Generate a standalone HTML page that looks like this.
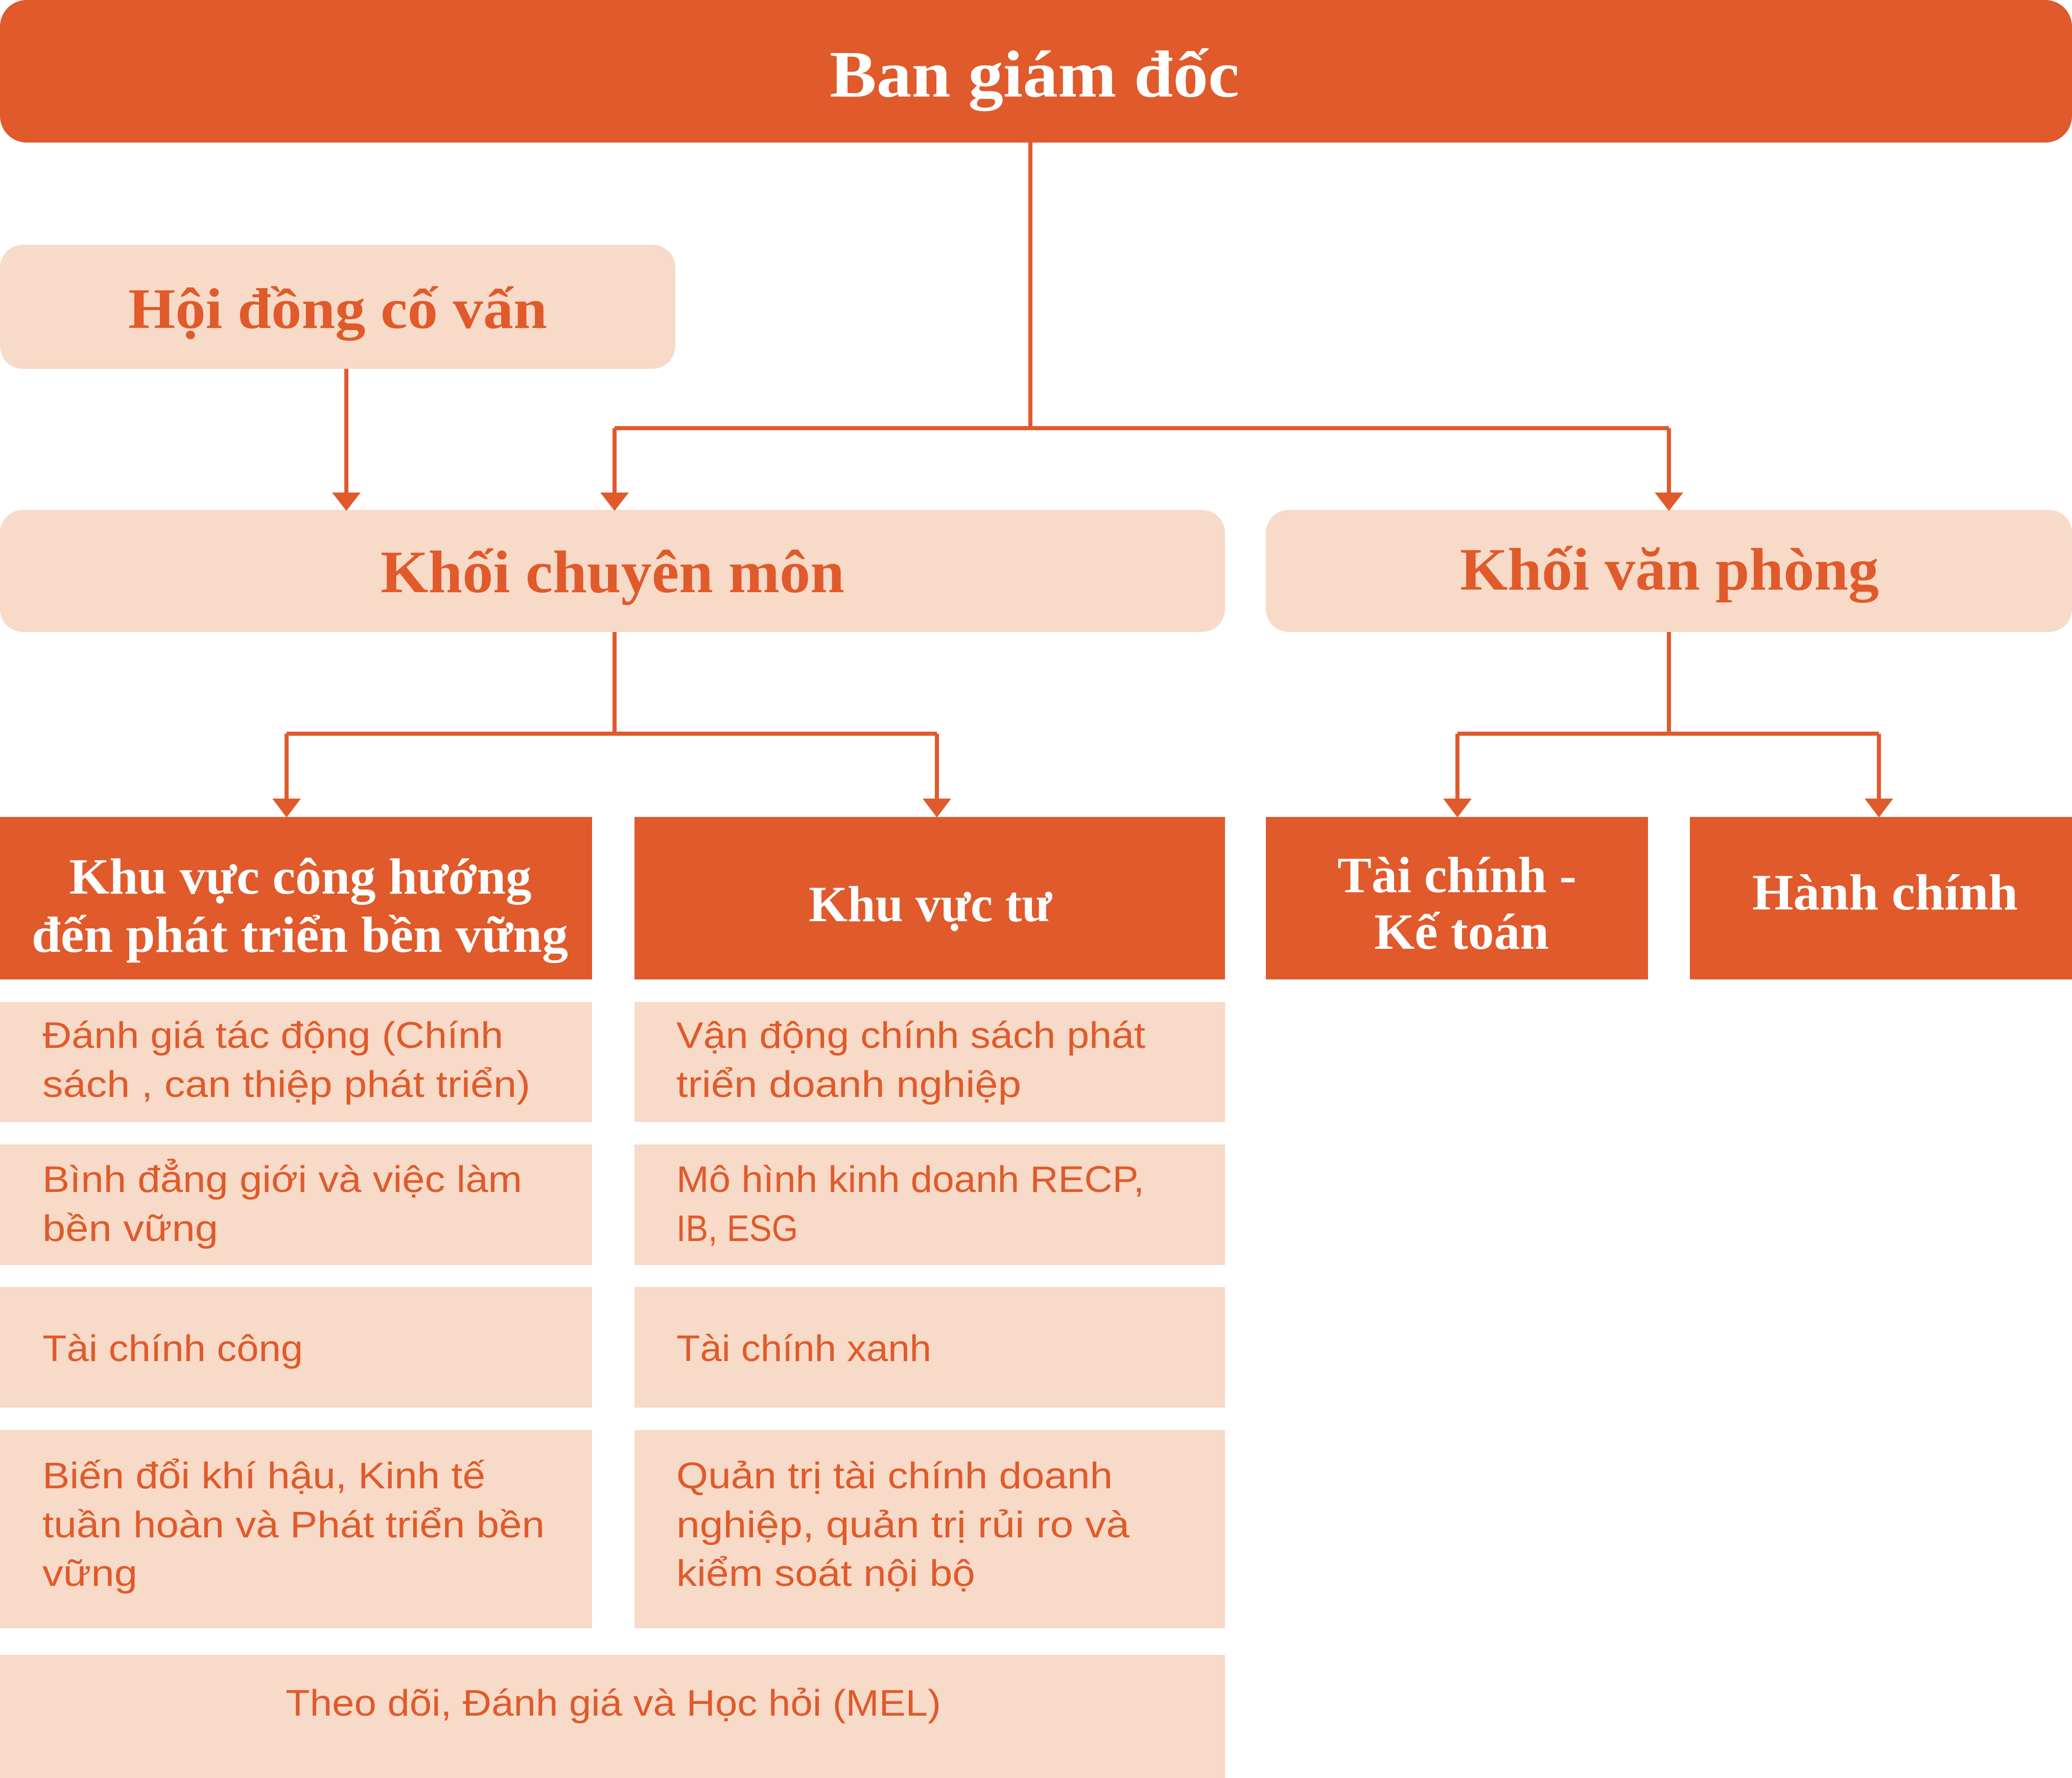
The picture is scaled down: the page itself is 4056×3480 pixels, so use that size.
<!DOCTYPE html>
<html><head><meta charset="utf-8"><style>
html,body{margin:0;padding:0;background:#fff;}
svg{display:block;}
.t{font-family:"Liberation Serif",serif;font-weight:bold;}
.b{font-family:"Liberation Sans","DejaVu Sans",sans-serif;font-size:72px;fill:#E05A2B;}
</style></head><body>
<svg width="4056" height="3480" viewBox="0 0 4056 3480" xmlns="http://www.w3.org/2000/svg">
<g fill="#E05A2B">
<rect x="0" y="0" width="4056" height="279" rx="52"/>
<rect x="0" y="1599" width="1159" height="318"/>
<rect x="1242" y="1599" width="1156" height="318"/>
<rect x="2478" y="1599" width="748" height="318"/>
<rect x="3308" y="1599" width="748" height="318"/>
</g>
<g fill="#F7DAC7">
<rect x="0" y="479" width="1322" height="243" rx="45"/>
<rect x="0" y="998" width="2398" height="239" rx="45"/>
<rect x="2478" y="998" width="1578" height="239" rx="45"/>
<rect x="0" y="1961" width="1159" height="235"/>
<rect x="0" y="2240" width="1159" height="236"/>
<rect x="0" y="2519" width="1159" height="236"/>
<rect x="0" y="2799" width="1159" height="388"/>
<rect x="1242" y="1961" width="1156" height="235"/>
<rect x="1242" y="2240" width="1156" height="236"/>
<rect x="1242" y="2519" width="1156" height="236"/>
<rect x="1242" y="2799" width="1156" height="388"/>
<rect x="0" y="3239" width="2398" height="241"/>
</g>
<g stroke="#E05A2B" stroke-width="8" fill="none">
<path d="M2017 279V838M1203 838H3267M1203 838V970M3267 838V970"/>
<path d="M678 722V970"/>
<path d="M1203 1237V1436M561 1436H1834M561 1436V1570M1834 1436V1570"/>
<path d="M3267 1237V1436M2853 1436H3678M2853 1436V1570M3678 1436V1570"/>
</g>
<g fill="#E05A2B">
<polygon points="650,964 706,964 678,1000"/>
<polygon points="1175,964 1231,964 1203,1000"/>
<polygon points="3239,964 3295,964 3267,1000"/>
<polygon points="533,1563 589,1563 561,1600"/>
<polygon points="1806,1563 1862,1563 1834,1600"/>
<polygon points="2825,1563 2881,1563 2853,1600"/>
<polygon points="3650,1563 3706,1563 3678,1600"/>
</g>
<g class="t" text-anchor="middle">
<text x="2025" y="189" font-size="130" fill="#fff" textLength="802" lengthAdjust="spacingAndGlyphs">Ban giám đốc</text>
<text x="661" y="642" font-size="112" fill="#E05A2B" textLength="820" lengthAdjust="spacingAndGlyphs">Hội đồng cố vấn</text>
<text x="1199" y="1159" font-size="118" fill="#E05A2B" textLength="908" lengthAdjust="spacingAndGlyphs">Khối chuyên môn</text>
<text x="3268" y="1154" font-size="118" fill="#E05A2B" textLength="820" lengthAdjust="spacingAndGlyphs">Khối văn phòng</text>
<g fill="#fff" font-size="100">
<text x="588" y="1749" textLength="905" lengthAdjust="spacingAndGlyphs">Khu vực công hướng</text>
<text x="587" y="1863" textLength="1050" lengthAdjust="spacingAndGlyphs">đến phát triển bền vững</text>
<text x="1821" y="1803" textLength="476" lengthAdjust="spacingAndGlyphs">Khu vực tư</text>
<text x="2852" y="1746" textLength="468" lengthAdjust="spacingAndGlyphs">Tài chính -</text>
<text x="2861" y="1857" textLength="342" lengthAdjust="spacingAndGlyphs">Kế toán</text>
<text x="3690" y="1780" textLength="520" lengthAdjust="spacingAndGlyphs">Hành chính</text>
</g>
</g>
<g class="b" lengthAdjust="spacingAndGlyphs">
<text x="83" y="2051" textLength="902" lengthAdjust="spacingAndGlyphs">Đánh giá tác động (Chính</text>
<text x="83" y="2147" textLength="955" lengthAdjust="spacingAndGlyphs">sách , can thiệp phát triển)</text>
<text x="83" y="2333" textLength="939" lengthAdjust="spacingAndGlyphs">Bình đẳng giới và việc làm</text>
<text x="83" y="2429" textLength="344" lengthAdjust="spacingAndGlyphs">bền vững</text>
<text x="83" y="2664" textLength="510" lengthAdjust="spacingAndGlyphs">Tài chính công</text>
<text x="83" y="2913" textLength="867" lengthAdjust="spacingAndGlyphs">Biến đổi khí hậu, Kinh tế</text>
<text x="83" y="3009" textLength="983" lengthAdjust="spacingAndGlyphs">tuần hoàn và Phát triển bền</text>
<text x="83" y="3104" textLength="186" lengthAdjust="spacingAndGlyphs">vững</text>
<text x="1324" y="2051" textLength="918" lengthAdjust="spacingAndGlyphs">Vận động chính sách phát</text>
<text x="1324" y="2147" textLength="675" lengthAdjust="spacingAndGlyphs">triển doanh nghiệp</text>
<text x="1324" y="2333" textLength="916" lengthAdjust="spacingAndGlyphs">Mô hình kinh doanh RECP,</text>
<text x="1324" y="2429" textLength="238" lengthAdjust="spacingAndGlyphs">IB, ESG</text>
<text x="1324" y="2664" textLength="499" lengthAdjust="spacingAndGlyphs">Tài chính xanh</text>
<text x="1324" y="2913" textLength="854" lengthAdjust="spacingAndGlyphs">Quản trị tài chính doanh</text>
<text x="1324" y="3009" textLength="887" lengthAdjust="spacingAndGlyphs">nghiệp, quản trị rủi ro và</text>
<text x="1324" y="3104" textLength="585" lengthAdjust="spacingAndGlyphs">kiểm soát nội bộ</text>
<text x="559" y="3358" textLength="1283" lengthAdjust="spacingAndGlyphs">Theo dõi, Đánh giá và Học hỏi (MEL)</text>
</g>
</svg>
</body></html>
